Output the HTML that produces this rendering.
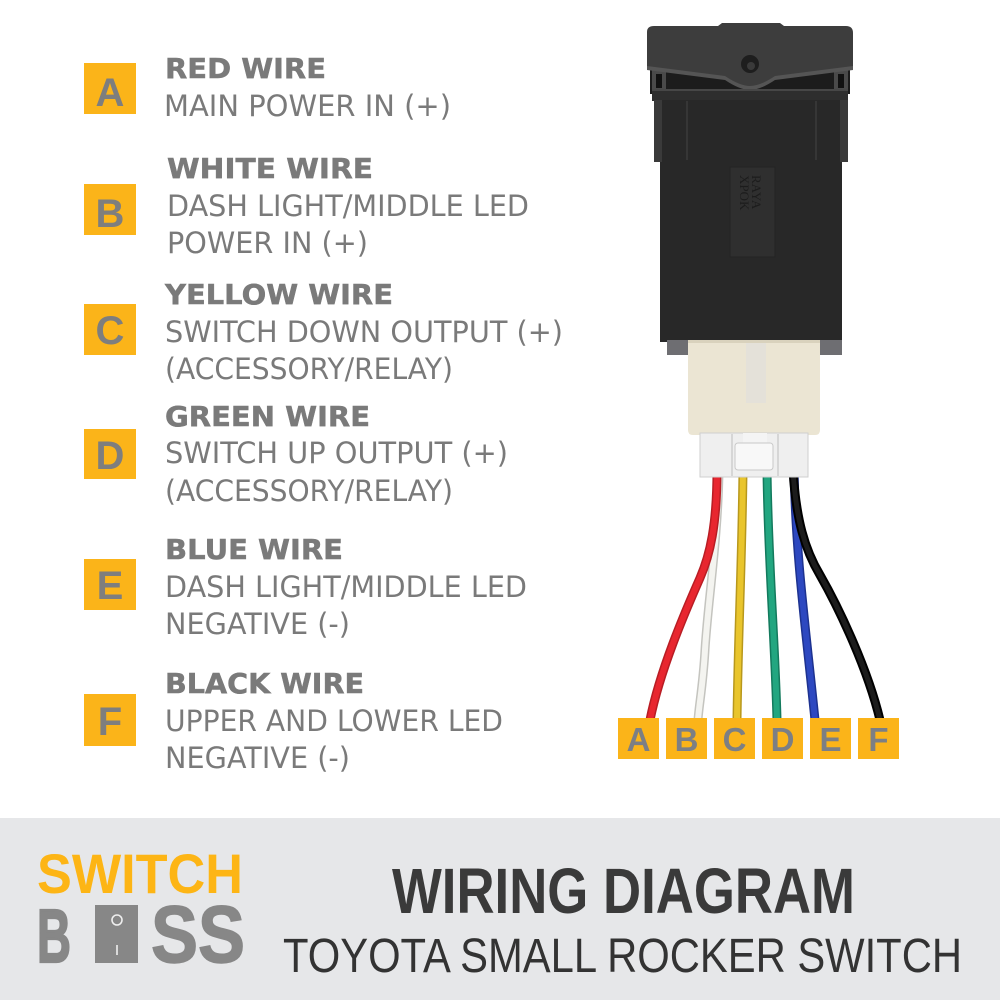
<!DOCTYPE html>
<html>
<head>
<meta charset="utf-8">
<style>
html,body{margin:0;padding:0;background:#fff;}
svg{display:block;}
.h{font-family:"DejaVu Sans","Liberation Sans",sans-serif;font-weight:bold;font-size:28px;fill:#7a7a7a;stroke:#7a7a7a;stroke-width:0.5px;}
.t{font-family:"DejaVu Sans","Liberation Sans",sans-serif;font-size:29px;fill:#7a7a7a;}
.bl{font-family:"Liberation Sans",sans-serif;font-weight:bold;font-size:40px;fill:#7e7e7e;}
.sl{font-family:"Liberation Sans",sans-serif;font-weight:bold;font-size:33px;fill:#7c7f84;}
</style>
</head>
<body>
<svg width="1000" height="1000" viewBox="0 0 1000 1000" xmlns="http://www.w3.org/2000/svg">
<rect width="1000" height="1000" fill="#ffffff"/>

<!-- Left legend boxes -->
<g fill="#fbb419">
<rect x="84" y="63" width="52" height="51"/>
<rect x="84" y="184" width="52" height="51"/>
<rect x="84" y="304" width="52" height="51"/>
<rect x="84" y="429" width="52" height="50"/>
<rect x="84" y="559" width="52" height="51"/>
<rect x="84" y="694" width="52" height="52"/>
</g>
<g class="bl" text-anchor="middle">
<text x="110" y="106">A</text>
<text x="110" y="227">B</text>
<text x="110" y="344">C</text>
<text x="110" y="469">D</text>
<text x="110" y="599">E</text>
<text x="110" y="735">F</text>
</g>

<!-- Legend text -->
<text class="h" x="165" y="78" textLength="161" lengthAdjust="spacingAndGlyphs">RED WIRE</text>
<text class="t" x="164" y="116" textLength="287" lengthAdjust="spacingAndGlyphs">MAIN POWER IN (+)</text>

<text class="h" x="167" y="178" textLength="206" lengthAdjust="spacingAndGlyphs">WHITE WIRE</text>
<text class="t" x="167" y="216" textLength="362" lengthAdjust="spacingAndGlyphs">DASH LIGHT/MIDDLE LED</text>
<text class="t" x="167" y="253" textLength="201" lengthAdjust="spacingAndGlyphs">POWER IN (+)</text>

<text class="h" x="165" y="304" textLength="228" lengthAdjust="spacingAndGlyphs">YELLOW WIRE</text>
<text class="t" x="165" y="342" textLength="398" lengthAdjust="spacingAndGlyphs">SWITCH DOWN OUTPUT (+)</text>
<text class="t" x="165" y="379" textLength="288" lengthAdjust="spacingAndGlyphs">(ACCESSORY/RELAY)</text>

<text class="h" x="165" y="426" textLength="205" lengthAdjust="spacingAndGlyphs">GREEN WIRE</text>
<text class="t" x="165" y="463" textLength="343" lengthAdjust="spacingAndGlyphs">SWITCH UP OUTPUT (+)</text>
<text class="t" x="165" y="501" textLength="288" lengthAdjust="spacingAndGlyphs">(ACCESSORY/RELAY)</text>

<text class="h" x="165" y="559" textLength="178" lengthAdjust="spacingAndGlyphs">BLUE WIRE</text>
<text class="t" x="165" y="597" textLength="362" lengthAdjust="spacingAndGlyphs">DASH LIGHT/MIDDLE LED</text>
<text class="t" x="165" y="634" textLength="185" lengthAdjust="spacingAndGlyphs">NEGATIVE (-)</text>

<text class="h" x="165" y="693" textLength="199" lengthAdjust="spacingAndGlyphs">BLACK WIRE</text>
<text class="t" x="165" y="731" textLength="338" lengthAdjust="spacingAndGlyphs">UPPER AND LOWER LED</text>
<text class="t" x="165" y="768" textLength="185" lengthAdjust="spacingAndGlyphs">NEGATIVE (-)</text>

<!-- Switch body -->
<rect x="650" y="64" width="200" height="30" fill="#1c1c1c"/>
<rect x="652" y="70" width="14" height="22" fill="#4a4a4a"/>
<rect x="656" y="74" width="6" height="14" fill="#111"/>
<rect x="834" y="70" width="14" height="22" fill="#4a4a4a"/>
<rect x="838" y="74" width="6" height="14" fill="#111"/>
<path d="M647,32 Q647,26 654,26 L718,26 L722,23 L780,23 L784,26 L846,26 Q853,26 853,33 L853,68 L775,78 Q760,88 750,88 Q740,88 725,78 L647,68 Z" fill="#3d3d3d"/>
<path d="M647,66 L725,76 Q740,86 750,86 Q760,86 775,76 L853,66 L853,70 L775,80 Q760,90 750,90 Q740,90 725,80 L647,70 Z" fill="#555"/>
<circle cx="750" cy="64" r="9" fill="#1e1e1e"/>
<circle cx="751" cy="66" r="4" fill="#3a3a3a"/>
<rect x="652" y="89" width="196" height="12" fill="#2e2e2e"/>
<rect x="652" y="89" width="196" height="2" fill="#474747"/>
<rect x="660" y="100" width="182" height="242" fill="#282828"/>
<rect x="654" y="100" width="8" height="62" fill="#3a3a3a"/>
<rect x="840" y="100" width="8" height="62" fill="#3a3a3a"/>
<line x1="687" y1="101" x2="687" y2="160" stroke="#363636" stroke-width="2"/>
<line x1="816" y1="101" x2="816" y2="160" stroke="#363636" stroke-width="2"/>
<rect x="730" y="167" width="45" height="90" fill="#2f2f2f" stroke="#232323" stroke-width="1"/>
<text x="0" y="0" transform="translate(752,175) rotate(90)" font-family="Liberation Serif,serif" font-size="13" fill="#1c1c1c">RAYA</text>
<text x="0" y="0" transform="translate(740,175) rotate(90)" font-family="Liberation Serif,serif" font-size="13" fill="#1c1c1c">XPOK</text>
<rect x="667" y="340" width="175" height="15" fill="#6e6e72"/>

<!-- wires -->
<g fill="none" stroke-linecap="butt">
<path d="M719,470 C718,540 708,600 705,650 C703,685 699,705 698,720" stroke="#c4c4bf" stroke-width="9"/>
<path d="M719,470 C718,540 708,600 705,650 C703,685 699,705 698,720" stroke="#f4f4f0" stroke-width="6"/>
<path d="M717,470 C717,525 710,555 700,578 C685,612 660,670 650,720" stroke="#b81d24" stroke-width="9"/>
<path d="M717,470 C717,525 710,555 700,578 C685,612 660,670 650,720" stroke="#e8262f" stroke-width="6"/>
<path d="M743,470 C742,560 738,640 737,720" stroke="#b8981c" stroke-width="9"/>
<path d="M743,470 C742,560 738,640 737,720" stroke="#e9c52c" stroke-width="6"/>
<path d="M767,470 C768,560 775,640 777,720" stroke="#137a5d" stroke-width="9"/>
<path d="M767,470 C768,560 775,640 777,720" stroke="#22a680" stroke-width="6"/>
<path d="M794,470 C796,560 806,630 815,720" stroke="#1d3290" stroke-width="9"/>
<path d="M794,470 C796,560 806,630 815,720" stroke="#2d48c0" stroke-width="6"/>
<path d="M793,470 C796,520 805,550 820,575 C840,610 868,670 880,720" stroke="#000" stroke-width="9"/>
<path d="M793,470 C796,520 805,550 820,575 C840,610 868,670 880,720" stroke="#1c1c1c" stroke-width="5"/>
</g>

<!-- beige connector -->
<path d="M688,340 L820,340 L820,430 Q820,435 815,435 L693,435 Q688,435 688,430 Z" fill="#ebe5d3"/>
<rect x="746" y="343" width="20" height="60" fill="#e4e1d9"/>
<rect x="688" y="340" width="132" height="3" fill="#d9d2bd"/>
<!-- white plug -->
<rect x="700" y="433" width="108" height="44" fill="#efefef" stroke="#cfcfcf" stroke-width="1"/>
<line x1="732" y1="434" x2="732" y2="476" stroke="#d6d6d6" stroke-width="2"/>
<line x1="778" y1="434" x2="778" y2="476" stroke="#d6d6d6" stroke-width="2"/>
<rect x="743" y="433" width="24" height="12" fill="#f4f4f4"/>
<rect x="735" y="443" width="38" height="27" rx="3" fill="#f8f8f8" stroke="#c9c9c9" stroke-width="1"/>

<!-- bottom letter boxes -->
<g fill="#fbb419">
<rect x="618" y="718" width="41" height="41"/>
<rect x="666" y="718" width="41" height="41"/>
<rect x="714" y="718" width="41" height="41"/>
<rect x="762" y="718" width="41" height="41"/>
<rect x="810" y="718" width="41" height="41"/>
<rect x="858" y="718" width="41" height="41"/>
</g>
<g class="sl" text-anchor="middle">
<text x="638.5" y="751">A</text>
<text x="686.5" y="751">B</text>
<text x="734.5" y="751">C</text>
<text x="782.5" y="751">D</text>
<text x="830.5" y="751">E</text>
<text x="878.5" y="751">F</text>
</g>

<!-- bottom band -->
<rect x="0" y="818" width="1000" height="182" fill="#e6e7e9"/>
<text x="37" y="893" font-family="Liberation Sans,sans-serif" font-weight="bold" font-size="56" fill="#fdb515" textLength="206" lengthAdjust="spacingAndGlyphs">SWITCH</text>
<g transform="translate(0,962) scale(1,1.45)">
<text x="37" y="0" font-family="Liberation Sans,sans-serif" font-weight="bold" font-size="52" fill="#878787" stroke="#878787" stroke-width="1.5" textLength="34" lengthAdjust="spacingAndGlyphs">B</text>
<text x="151" y="0" font-family="Liberation Sans,sans-serif" font-weight="bold" font-size="56" fill="#878787" stroke="#878787" stroke-width="1" textLength="94" lengthAdjust="spacingAndGlyphs">SS</text>
</g>
<rect x="95" y="905" width="43" height="58" fill="#878787"/>
<circle cx="117" cy="920" r="5" fill="none" stroke="#eeeeee" stroke-width="1.6"/>
<line x1="117" y1="945" x2="117" y2="955" stroke="#eeeeee" stroke-width="1.6"/>

<text x="392" y="913" font-family="Liberation Sans,sans-serif" font-weight="bold" font-size="64" fill="#3a3a3a" textLength="463" lengthAdjust="spacingAndGlyphs">WIRING DIAGRAM</text>
<text x="283" y="972" font-family="Liberation Sans,sans-serif" font-size="48" fill="#333333" textLength="679" lengthAdjust="spacingAndGlyphs">TOYOTA SMALL ROCKER SWITCH</text>
</svg>
</body>
</html>
